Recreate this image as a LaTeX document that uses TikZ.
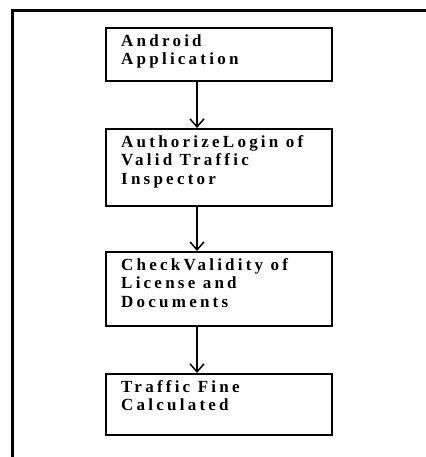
\documentclass[tikz,border=0pt]{standalone}
\usepackage{fontspec}
\setmainfont{Liberation Serif}
\newfontfamily\boxfont[LetterSpace=19]{Liberation Serif}
\usetikzlibrary{arrows.meta}
\begin{document}
\begin{tikzpicture}[x=1pt,y=-1pt,
  stepbox/.style={draw,line width=2pt,minimum width=226pt,anchor=north west,inner sep=0pt},
  lbl/.style={anchor=north west,inner sep=0pt,align=left,font=\boxfont\bfseries\fontsize{17}{18.3}\selectfont},
  arr/.style={line width=1.8pt,-{Straight Barb[length=8pt,width=14pt,line width=1.5pt]}}]
\useasboundingbox (0,0) rectangle (425,457);
\draw[line width=3pt] (12,458) -- (12,11) -- (426,11);
\node[stepbox,minimum height=53pt] (b1) at (105,27) {};
\node[stepbox,minimum height=77pt] (b2) at (105,128) {};
\node[stepbox,minimum height=74pt] (b3) at (105,251) {};
\node[stepbox,minimum height=61pt] (b4) at (105,373) {};
\node[lbl] (t1) at ([shift={(16,7.5)}]b1.north west) {Android\\Application};
\node[lbl] (t2) at ([shift={(16,7.5)}]b2.north west) {AuthorizeLogin of\\Valid Traffic\\Inspector};
\node[lbl] (t3) at ([shift={(16,7.5)}]b3.north west) {CheckValidity of\\License and\\Documents};
\node[lbl] (t4) at ([shift={(16,7.5)}]b4.north west) {Traffic Fine\\Calculated};
\draw[arr] ([xshift=-22pt]b1.south) -- ([xshift=-22pt]b2.north);
\draw[arr] ([xshift=-22pt]b2.south) -- ([xshift=-22pt]b3.north);
\draw[arr] ([xshift=-22pt]b3.south) -- ([xshift=-22pt]b4.north);
\end{tikzpicture}
\end{document}
